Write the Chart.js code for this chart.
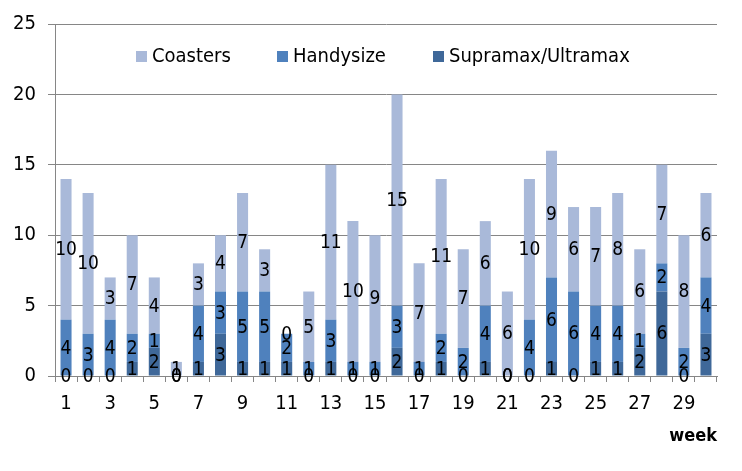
<!DOCTYPE html>
<html>
<head>
<meta charset="utf-8">
<script src="https://cdn.jsdelivr.net/npm/chart.js@4/dist/chart.umd.min.js"></script>
<style>
    html, body { margin: 0; padding: 0; background: #fff; }
    #wrap { width: 742px; height: 471px; }
</style>
</head>
<body>
<div id="wrap"><canvas id="shipChart"></canvas></div>
<script>
// Data
const weeks = ['1','2','3','4','5','6','7','8','9','10','11','12','13','14','15',
               '16','17','18','19','20','21','22','23','24','25','26','27','28','29','30'];
const supramax  = [0,0,0,1,2,0,1,3,1,1,1,0,1,0,0,2,0,1,0,1,0,0,1,0,1,1,2,6,0,3];
const handysize = [4,3,4,2,1,0,4,3,5,5,2,1,3,1,1,3,1,2,2,4,0,4,6,6,4,4,1,2,2,4];
const coasters  = [10,10,3,7,4,1,3,4,7,3,0,5,11,10,9,15,7,11,7,6,6,10,9,6,7,8,6,7,8,6];
const yTicks = [0, 5, 10, 15, 20, 25];

const FONT = "'DejaVu Sans Condensed', 'DejaVu Sans', sans-serif";
const GRID = '#868686';

// Value labels centred in every stacked segment
const segmentLabels = {
    id: 'segmentLabels',
    afterDatasetsDraw(chart) {
        const ctx = chart.ctx;
        ctx.save();
        ctx.font = '19px ' + FONT;
        ctx.fillStyle = '#000';
        ctx.textAlign = 'center';
        ctx.textBaseline = 'middle';
        chart.data.datasets.forEach((ds, i) => {
            chart.getDatasetMeta(i).data.forEach((bar, j) => {
                const p = bar.getProps(['x', 'y', 'base'], true);
                ctx.fillText(String(ds.data[j]), p.x, (p.y + p.base) / 2 + 1);
            });
        });
        ctx.restore();
    }
};

// Legend sits inside the plot area, so draw it by hand
const innerLegend = {
    id: 'innerLegend',
    afterDraw(chart) {
        const ctx = chart.ctx;
        const area = chart.chartArea;
        const offsets = [81, 222, 378];   // box left, from plot left
        const order = [2, 1, 0];          // Coasters, Handysize, Supramax
        const y = area.top + 32;
        ctx.save();
        ctx.font = '20px ' + FONT;
        ctx.textAlign = 'left';
        ctx.textBaseline = 'middle';
        order.forEach((dsIndex, k) => {
            const ds = chart.data.datasets[dsIndex];
            const x = area.left + offsets[k];
            ctx.fillStyle = ds.backgroundColor;
            ctx.fillRect(x, y - 5, 11, 11);
            ctx.fillStyle = '#000';
            ctx.fillText(ds.label, x + 16, y + 1);
        });
        ctx.restore();
    }
};

new Chart(document.getElementById('shipChart'), {
    type: 'bar',
    data: {
        labels: weeks,
        datasets: [
            { label: 'Supramax/Ultramax', data: supramax,  backgroundColor: '#3F6899' },
            { label: 'Handysize',         data: handysize, backgroundColor: '#4F81BD' },
            { label: 'Coasters',          data: coasters,  backgroundColor: '#A9B9D9' }
        ]
    },
    options: {
        responsive: true,
        maintainAspectRatio: false,
        animation: false,
        datasets: { bar: { barPercentage: 0.5, categoryPercentage: 1.0 } },
        layout: { padding: { top: 22, right: 25, left: 0, bottom: 0 } },
        plugins: {
            legend: { display: false },
            tooltip: { enabled: false }
        },
        scales: {
            x: {
                stacked: true,
                ticks: {
                    autoSkip: false,
                    maxRotation: 0,
                    padding: 10,
                    color: '#000',
                    font: { family: FONT, size: 20 },
                    callback: (v, i) => i % 2 === 0 ? weeks[i] : ''
                },
                grid: { drawOnChartArea: false, tickLength: 6, color: GRID, offset: true },
                border: { color: GRID },
                title: {
                    display: true,
                    text: 'week',
                    align: 'end',
                    color: '#000',
                    font: { family: FONT, size: 18, weight: 'bold' },
                    padding: { top: 0, bottom: 24 }
                },
                afterFit(s) { s.height = 95; }
            },
            y: {
                stacked: true,
                min: 0,
                max: 25,
                afterBuildTicks(s) { s.ticks = yTicks.map(v => ({ value: v })); },
                ticks: {
                    padding: 12,
                    color: '#000',
                    font: { family: FONT, size: 20 }
                },
                grid: { color: GRID, tickLength: 7 },
                border: { color: GRID },
                afterFit(s) { s.width = 55; }
            }
        }
    },
    plugins: [segmentLabels, innerLegend]
});
</script>
</body>
</html>
